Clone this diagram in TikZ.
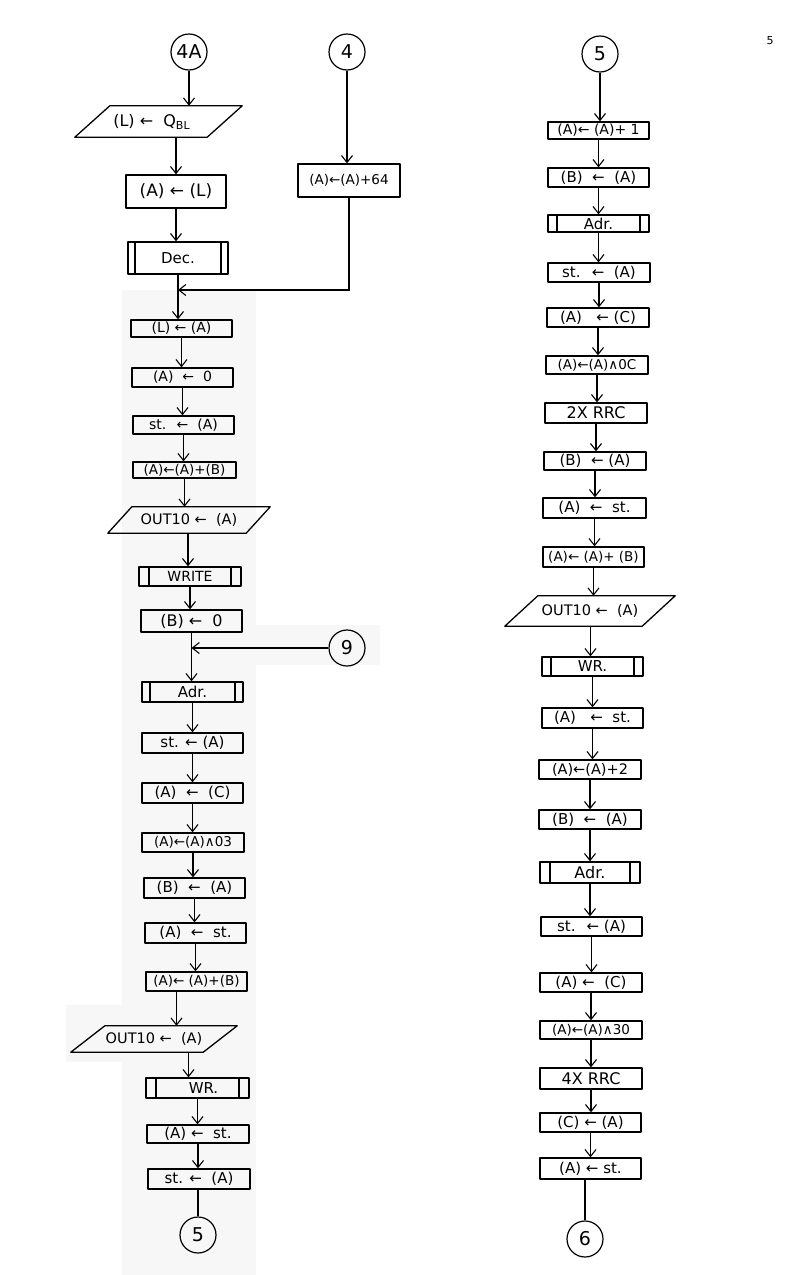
\documentclass[tikz,border=0pt]{standalone}
\usepackage{fontspec}
\setmainfont{DejaVu Sans}
\usetikzlibrary{arrows.meta,calc}
\newcommand\ioshape[2]{\draw[boxline] (#1.south west) -- ([xshift=#2]#1.north west) -- (#1.north east) -- ([xshift=-#2]#1.south east) -- cycle;}
\begin{document}
\begin{tikzpicture}[x=1pt,y=-1pt,
  boxline/.style={line width=1.3pt, line join=round},
  box/.style={draw, boxline, rectangle, inner sep=0pt, minimum width=101pt, minimum height=19pt, font=\fontsize{14}{14}\selectfont},
  sub/.style={box, path picture={
     \draw[line width=1.1pt] ([xshift=#1]path picture bounding box.north west) -- ([xshift=#1]path picture bounding box.south west)
           ([xshift=-#1]path picture bounding box.north east) -- ([xshift=-#1]path picture bounding box.south east);}},
  sub/.default=9pt,
  io/.style={inner sep=0pt, font=\fontsize{14.5}{14.5}\selectfont},
  conn/.style={draw, circle, line width=1.2pt, minimum size=36pt, inner sep=0pt, font=\fontsize{19}{19}\selectfont},
  arr/.style={line width=1.1pt, -{Straight Barb[length=7pt,width=11pt,line width=1.1pt]}},
  ln/.style={line width=1.1pt}]
\useasboundingbox (0,0) rectangle (800,1275);
\fill[gray!6] (122,290) rectangle (256,1275);
\fill[gray!6] (256,625) rectangle (380,665);
\fill[gray!6] (66,1005) rectangle (122,1062);

% page number
\node[font=\fontsize{11}{11}\selectfont] (pg) at (770,41) {5};

% ---------------- left column ----------------
\node[conn] (c4A) at (189,52) {4A};
\node[conn] (c4) at (347,52) {4};
\node[io, minimum width=167pt, minimum height=31pt, font=\fontsize{16}{16}\selectfont] (io1) at (158.5,121.5) {\hspace*{-14pt}(L) ← \ Q\raisebox{-3pt}{\fontsize{11}{11}\selectfont BL}};
\ioshape{io1}{35pt}
\node[box, minimum width=100pt, minimum height=33pt, font=\fontsize{17}{17}\selectfont] (aL) at (176,191.5) {(A) ← (L)};
\node[sub=7pt, minimum width=100pt, minimum height=32pt, font=\fontsize{15}{15}\selectfont] (dec) at (178,258) {Dec.};
\node[box, minimum width=102pt, minimum height=33pt, font=\fontsize{13.5}{13.5}\selectfont] (a64) at (349,180.5) {(A)←(A)+64};
\coordinate (m1) at (178,290);
\node[box, minimum height=17pt] (lA) at (181.5,328.5) {(L) ← (A)};
\node[box] (a0) at (182.5,377.5) {(A) \ ← \ 0};
\node[box, minimum height=18pt] (stA1) at (183.5,425) {st. \ ← \ (A)};
\node[box, minimum width=103pt, minimum height=16pt, font=\fontsize{13.5}{13.5}\selectfont] (aab1) at (184.5,470) {(A)←(A)+(B)};
\node[io, minimum width=162pt, minimum height=26pt] (io2) at (189,520) {OUT10 ← \ (A)};
\ioshape{io2}{24pt}
\node[sub=10pt, minimum width=102pt] (write) at (190,576.5) {WRITE};
\node[box, minimum height=22pt, font=\fontsize{16}{16}\selectfont] (b0) at (191.5,621) {(B) ← \ 0};
\node[conn] (c9) at (347,648) {9};
\node[sub=8pt, minimum height=20pt, font=\fontsize{15}{15}\selectfont] (adr1) at (192.5,692) {Adr.};
\node[box, minimum height=20pt, font=\fontsize{15}{15}\selectfont] (stA2) at (192.5,743) {st. ← (A)};
\node[box, minimum height=20pt, font=\fontsize{15}{15}\selectfont] (aC1) at (192.5,793) {(A) \ ← \ (C)};
\node[box, minimum width=102pt, font=\fontsize{13.5}{13.5}\selectfont] (and03) at (193,842.5) {(A)←(A)∧03};
\node[box, minimum height=20pt, font=\fontsize{15}{15}\selectfont] (bA1) at (194.5,888) {(B) \ ← \ (A)};
\node[box, minimum height=20pt, font=\fontsize{15}{15}\selectfont] (ast1) at (195.5,933) {(A) \ ← \ st.};
\node[box, font=\fontsize{13.5}{13.5}\selectfont] (aab2) at (196.5,981.5) {(A)← (A)+(B)};
\node[io, minimum width=166pt, minimum height=26pt] (io3) at (154,1039) {OUT10 ← \ (A)};
\ioshape{io3}{34pt}
\node[sub=10pt, minimum width=103pt, minimum height=20pt, font=\fontsize{15}{15}\selectfont] (wr1) at (197.5,1088) {\hspace*{12pt}WR.};
\node[box, minimum width=102pt, minimum height=18pt, font=\fontsize{15}{15}\selectfont] (ast2) at (198,1134) {(A) ← \ st.};
\node[box, minimum width=102pt, minimum height=20pt, font=\fontsize{15}{15}\selectfont] (stA3) at (199,1179) {st. ← \ (A)};
\node[conn] (c5a) at (198,1235) {5};

\draw[arr] (c4A.south) -- (c4A.south |- io1.north);
\draw[arr] (aL.north |- io1.south) -- (aL.north);
\draw[arr] (aL.south) -- (aL.south |- dec.north);
\draw[arr] (c4.south) -- (c4.south |- a64.north);
\draw[arr] (a64.south) |- (m1);
\draw[arr] (dec.south) -- (dec.south |- lA.north);
\draw[arr] (lA.south) -- (lA.south |- a0.north);
\draw[arr] (a0.south) -- (a0.south |- stA1.north);
\draw[arr] (stA1.south) -- (stA1.south |- aab1.north);
\draw[arr] (aab1.south) -- (aab1.south |- io2.north);
\draw[arr] ([xshift=-2pt]write.north |- io2.south) -- ([xshift=-2pt]write.north);
\draw[arr] (write.south) -- (write.south |- b0.north);
\draw[arr] (c9.west) -- (b0.south |- c9.west);
\draw[arr] (b0.south) -- (b0.south |- adr1.north);
\draw[arr] (adr1.south) -- (adr1.south |- stA2.north);
\draw[arr] (stA2.south) -- (stA2.south |- aC1.north);
\draw[arr] (aC1.south) -- (aC1.south |- and03.north);
\draw[arr] (and03.south) -- (and03.south |- bA1.north);
\draw[arr] (bA1.south) -- (bA1.south |- ast1.north);
\draw[arr] (ast1.south) -- (ast1.south |- aab2.north);
\draw[arr] ([xshift=-20pt]aab2.south) -- ([xshift=-20pt]aab2.south |- io3.north);
\draw[arr] ([xshift=-9pt]wr1.north |- io3.south) -- ([xshift=-9pt]wr1.north);
\draw[arr] (wr1.south) -- (wr1.south |- ast2.north);
\draw[arr] (ast2.south) -- (ast2.south |- stA3.north);
\draw[ln] (c5a.north |- stA3.south) -- (c5a.north);

% ---------------- right column ----------------
\node[conn] (c5b) at (600,54) {5};
\node[box, minimum height=17pt] (r1) at (598.5,130.5) {(A)← (A)+ 1};
\node[box, font=\fontsize{15}{15}\selectfont] (r2) at (598.5,177.5) {(B) \ ← \ (A)};
\node[sub=9pt, minimum height=17pt, font=\fontsize{15}{15}\selectfont] (r3) at (598.5,223.5) {Adr.};
\node[box, minimum width=102pt, font=\fontsize{15}{15}\selectfont] (r4) at (599,272.5) {st. \ ← \ (A)};
\node[box, minimum width=102pt, font=\fontsize{15}{15}\selectfont] (r5) at (598,317.5) {(A) \ \ ← (C)};
\node[box, minimum width=102pt, minimum height=18pt, font=\fontsize{13.5}{13.5}\selectfont] (r6) at (597,365) {(A)←(A)∧0C};
\node[box, minimum width=102pt, minimum height=20pt, font=\fontsize{16}{16}\selectfont] (r7) at (596,413) {2X RRC};
\node[box, minimum width=102pt, minimum height=18pt, font=\fontsize{15}{15}\selectfont] (r8) at (595,461) {(B) \ ← (A)};
\node[box, minimum width=103pt, minimum height=20pt, font=\fontsize{15}{15}\selectfont] (r9) at (594.5,508) {(A) \ ← \ st.};
\node[box, minimum height=20pt, font=\fontsize{13.5}{13.5}\selectfont] (r10) at (593.5,557) {(A)← (A)+ (B)};
\node[io, minimum width=170pt, minimum height=30pt] (r11) at (590,611) {OUT10 ← \ (A)};
\ioshape{r11}{33pt}
\node[sub=9pt, font=\fontsize{15}{15}\selectfont] (r12) at (592.5,666.5) {WR.};
\node[box, minimum height=20pt, font=\fontsize{15}{15}\selectfont] (r13) at (592.5,718) {(A) \ \ ← \ st.};
\node[box, minimum width=102pt, font=\fontsize{14.5}{14.5}\selectfont] (r14) at (590,769.5) {(A)←(A)+2};
\node[box, minimum width=102pt, font=\fontsize{15}{15}\selectfont] (r15) at (590,819.5) {(B) \ ← \ (A)};
\node[sub=10pt, minimum width=100pt, minimum height=21pt, font=\fontsize{16}{16}\selectfont] (r16) at (590,872.5) {Adr.};
\node[box, font=\fontsize{15}{15}\selectfont] (r17) at (591.5,926.5) {st. \ ← (A)};
\node[box, minimum width=102pt, font=\fontsize{15}{15}\selectfont] (r18) at (591,982.5) {(A) ← \ (C)};
\node[box, minimum width=102pt, minimum height=18pt, font=\fontsize{13.5}{13.5}\selectfont] (r19) at (591,1030) {(A)←(A)∧30};
\node[box, minimum width=102pt, minimum height=21pt, font=\fontsize{16}{16}\selectfont] (r20) at (591,1078.5) {4X RRC};
\node[box, font=\fontsize{15}{15}\selectfont] (r21) at (590.5,1122.5) {(C) ← (A)};
\node[box, minimum height=21pt, font=\fontsize{15}{15}\selectfont] (r22) at (590.5,1168.5) {(A) ← st.};
\node[conn] (c6) at (585,1239) {6};

\draw[arr] (c5b.south) -- (c5b.south |- r1.north);
\foreach \a/\b in {r1/r2,r2/r3,r3/r4,r4/r5,r5/r6,r6/r7,r7/r8,r8/r9,r9/r10,r10/r11,
                   r12/r13,r13/r14,r14/r15,r15/r16,r16/r17,r17/r18,r18/r19,r19/r20,r20/r21,r21/r22}
  \draw[arr] (\a.south) -- (\a.south |- \b.north);
\draw[arr] ([xshift=-2pt]r12.north |- r11.south) -- ([xshift=-2pt]r12.north);
\draw[ln] (c6.north |- r22.south) -- (c6.north);
\end{tikzpicture}
\end{document}
